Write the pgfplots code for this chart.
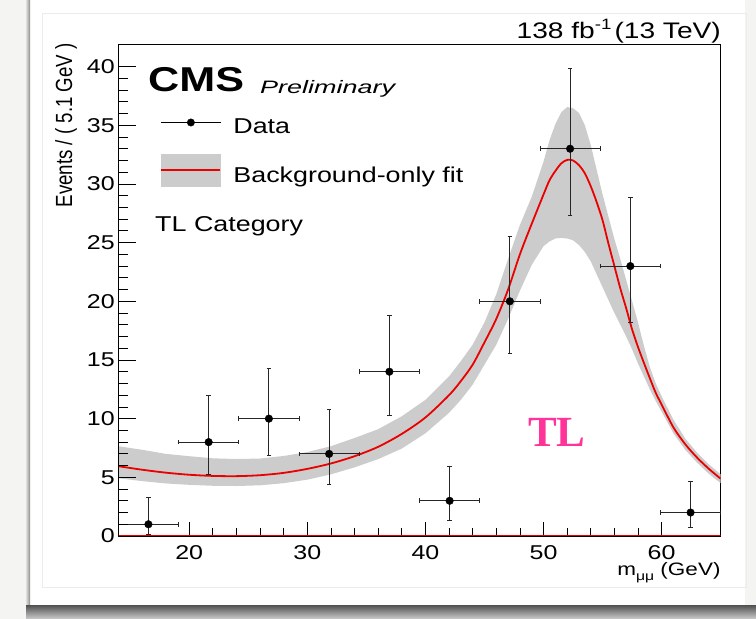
\documentclass[border=0pt]{standalone}
\usepackage{fontspec}
\setmainfont{Liberation Sans}[FakeStretch=1.25]
\newfontfamily\plainsans{Liberation Sans}
\newfontfamily\tlfont{Liberation Serif}
\usepackage{graphicx}
\usepackage{pgfplots}
\pgfplotsset{compat=1.18}

\definecolor{bandgray}{RGB}{204,204,204}
\definecolor{fitred}{RGB}{235,0,0}
\definecolor{tlpink}{RGB}{255,51,153}
\definecolor{pagegray}{RGB}{244,244,242}

\newcommand{\fs}[1]{\fontsize{#1}{#1}\selectfont}

\begin{document}
\begin{tikzpicture}[x=1pt,y=1pt]
\path[use as bounding box] (0,0) rectangle (756,619);
% page card with shadow
\fill[pagegray] (0,0) rectangle (756,619);
\fill[white] (30,13) rectangle (745,619);
\shade[left color=pagegray, right color=black!45] (25,13) rectangle (30,619);
\shade[top color=black!65, bottom color=black!20] (26,0) rectangle (756,13);
\draw[black!8] (42,32) rectangle (746,606);

% main axis: data, fit, x ticks, legend
\begin{axis}[
  at={(118.3pt,83pt)}, anchor=south west, scale only axis,
  width=602.4pt, height=491.7pt,
  xmin=14, xmax=65, ymin=0, ymax=41.9,
  axis line style={line width=0.9pt},
  tick pos=left, tick align=inside,
  xtick={20,30,40,50,60}, minor x tick num=4,
  ytick=\empty,
  major tick length=14pt, minor tick length=7.7pt,
  every tick/.style={black, line width=0.8pt},
  xticklabel style={font=\fs{20}, inner sep=0pt, yshift=-9pt},
  /pgf/number format/assume math mode=true,
  legend style={at={(axis description cs:0.0692,0.8489)}, anchor=north west,
    draw=none, fill=none, inner sep=0pt, outer sep=0pt,
    row sep=19pt, column sep=12pt, font=\fs{21.5},
    cells={anchor=base west}, nodes={inner sep=0pt}},
]
% uncertainty band of the background-only fit
\addplot[fill=bandgray, draw=none, forget plot] coordinates {
 (14,7.65) (16,7.35) (18,7.0) (20,6.8) (22,6.62) (24,6.56) (26,6.6) (28,6.82)
 (30,7.15) (32,7.65) (34,8.35) (36,9.1) (38,10.2) (40,11.6) (42,13.6) (43,14.9)
 (44,16.3) (45,18.2) (46,20.6) (47,23.6) (48,26.5) (49,28.9) (50,31.9) (50.5,33.7)
 (51,35.1) (51.5,36.1) (52,36.55) (52.5,36.45) (53,36.05) (53.5,35.0) (54,33.3)
 (54.5,31.2) (55,29.1) (55.5,27.2) (56,25.3) (56.5,23.6) (57,21.8) (57.5,20.0)
 (58,18.2) (58.5,16.2) (59,14.4) (59.5,13.0) (60,11.9) (61,9.9) (62,8.3) (63,7.1)
 (64,6.1) (65,5.25)
 (65,4.5) (64,5.3) (63,6.25) (62,7.35) (61,8.75) (60,10.6) (59.5,11.5) (59,12.5)
 (58.5,13.6) (58,14.7) (57.5,15.9) (57,17.0) (56.5,18.0) (56,19.0) (55.5,20.1)
 (55,21.2) (54.5,22.3) (54,23.4) (53.5,24.2) (53,24.8) (52.5,25.2) (52,25.35)
 (51.5,25.4) (51,25.35) (50.5,25.1) (50,24.7) (49,23.1) (48,20.9) (47,18.5)
 (46,16.3) (45,14.6) (44,12.9) (43,11.6) (42,10.5) (40,8.75) (38,7.45) (36,6.55)
 (34,5.85) (32,5.25) (30,4.8) (28,4.5) (26,4.32) (24,4.26) (22,4.28) (20,4.36)
 (18,4.48) (16,4.68) (14,4.92)
};
% background-only fit
\addplot[fitred, line width=1.8pt, smooth, forget plot] coordinates {
 (14,5.95) (16,5.65) (18,5.4) (20,5.22) (22,5.12) (24,5.1) (26,5.18) (28,5.38)
 (30,5.72) (32,6.18) (34,6.8) (36,7.6) (38,8.7) (40,10.1) (42,12.0) (43,13.2)
 (44,14.6) (45,16.5) (46,18.5) (47,21.0) (48,24.0) (49,26.6) (50,29.1) (50.5,30.3)
 (51,31.1) (51.5,31.75) (52,32.05) (52.5,32.0) (53,31.6) (53.5,30.9) (54,29.8)
 (54.5,28.45) (55,26.9) (55.5,24.9) (56,23.0) (56.5,21.1) (57,19.4) (57.5,17.6)
 (58,16.1) (58.5,14.75) (59,13.45) (59.5,12.2) (60,11.2) (61,9.25) (62,7.82)
 (63,6.68) (64,5.72) (65,4.88)
};
\addplot[fitred, line width=1.5pt, forget plot] coordinates {(14,0) (65,0)};
% data with Poisson intervals
\addplot[only marks, mark=*, mark size=3.8pt, black, forget plot,
  error bars/.cd, x dir=both, x explicit, y dir=both, y explicit,
  error bar style={line width=0.9pt, black!85},
  error mark options={rotate=90, mark size=2.3pt, line width=0.9pt, black!85}]
 coordinates {
 (16.55,1)  += (2.55,2.300) -= (2.55,0.827)
 (21.65,8)  += (2.55,3.950) -= (2.55,2.768)
 (26.75,10) += (2.55,4.270) -= (2.55,3.109)
 (31.85,7)  += (2.55,3.770) -= (2.55,2.581)
 (36.95,14) += (2.55,4.830) -= (2.55,3.700)
 (42.05,3)  += (2.55,2.918) -= (2.55,1.633)
 (47.15,20) += (2.55,5.550) -= (2.55,4.440)
 (52.25,33) += (2.55,6.810) -= (2.55,5.720)
 (57.35,23) += (2.55,5.880) -= (2.55,4.770)
 (62.45,2)  += (2.55,2.638) -= (2.55,1.292)
};
\addlegendimage{legend image code/.code={
  \draw[black, line width=1pt] (0pt,11pt) -- (60pt,11pt);
  \fill[black] (30pt,11pt) circle[radius=3.7pt];}}
\addlegendentry{Data}
\addlegendimage{legend image code/.code={
  \fill[bandgray] (0pt,-4pt) rectangle (59pt,28pt);
  \draw[fitred, line width=1.8pt] (0pt,12pt) -- (59pt,12pt);}}
\addlegendentry{Background-only fit}
\end{axis}

% y ticks and labels
\begin{axis}[
  at={(118.3pt,83pt)}, anchor=south west, scale only axis,
  width=602.4pt, height=491.7pt,
  xmin=14, xmax=65, ymin=0, ymax=41.9,
  axis x line=none, axis y line*=left, xtick=\empty,
  axis line style={line width=0.9pt},
  tick align=inside,
  ytick={0,5,...,40}, minor y tick num=4,
  major tick length=18pt, minor tick length=10pt,
  every tick/.style={black, line width=0.8pt},
  yticklabel style={font=\fs{20}, inner sep=0pt, xshift=-3.3pt},
  /pgf/number format/assume math mode=true,
]
\end{axis}

% annotations
\node[anchor=north, inner sep=0pt] at (66,576)
  {\scalebox{1.25}[1]{\rotatebox{90}{\plainsans\fs{18.7}Events / ( 5.1 GeV )}}};
\node[anchor=base west, inner sep=0pt] at (148,527) {\fs{34.5}\bfseries CMS};
\node[anchor=base west, inner sep=0pt] at (260,525)
  {\scalebox{1.2}[1]{\fs{18}\itshape Preliminary}};
\node[anchor=base east, inner sep=0pt] at (721,580)
  {\fs{22.5}138 fb\raisebox{0.42em}{\fs{15}-1}\hspace{3pt}(13 TeV)};
\node[anchor=base west, inner sep=0pt] at (155,387) {\fs{21.5}TL Category};
\node[anchor=base east, inner sep=0pt] at (720.7,43)
  {\fs{18}m\raisebox{-0.25em}{\fs{12.6}μμ} (GeV)};
\node[anchor=base west, inner sep=0pt, text=tlpink] at (528,172.3)
  {\tlfont\bfseries\fs{43}TL};
\end{tikzpicture}
\end{document}
